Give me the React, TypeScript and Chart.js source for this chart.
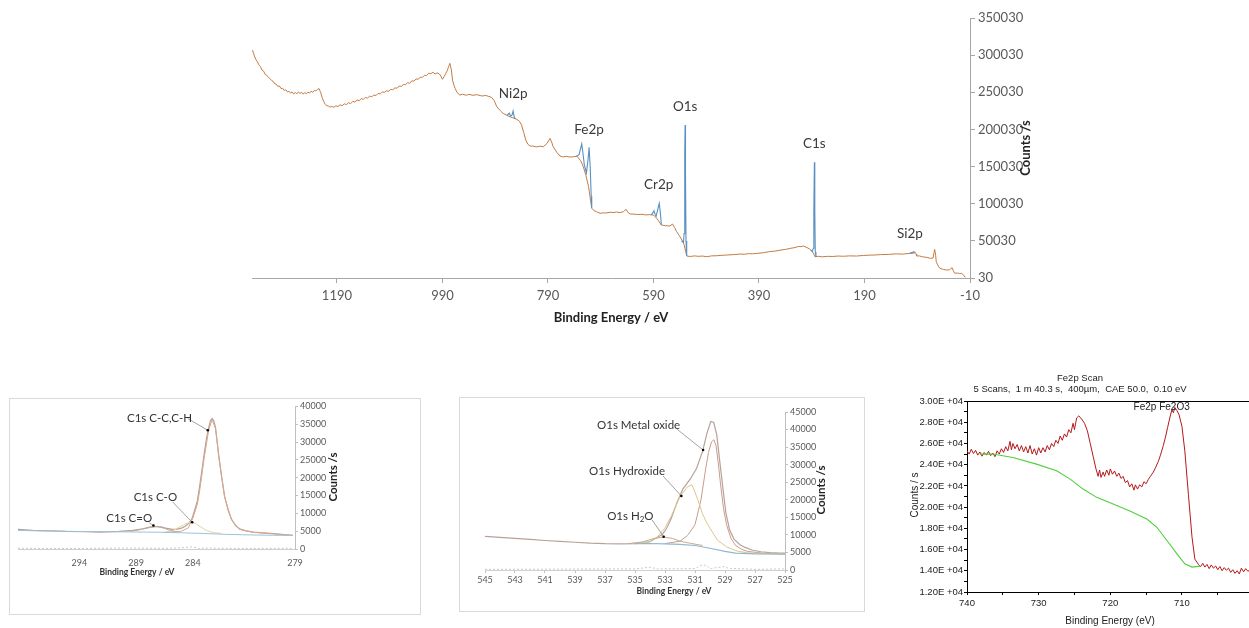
import React, { useEffect, useRef } from "react";
import { Chart, registerables } from "chart.js";

Chart.register(...registerables);

const CAL = "Lato, 'Open Sans', sans-serif";
const ARIAL = "'Liberation Sans', Arial, sans-serif";

// ---------------- Survey spectrum (eV, counts/s) ----------------
const SURVEY_BACKGROUND: [number, number][] = [
  [1350, 306900], [1347, 300000], [1344, 294500], [1341, 291500], [1338, 287000], [1335, 284500],
  [1332, 280000], [1329, 278500], [1326, 274000], [1323, 273000], [1320, 270000], [1317, 268500],
  [1314, 266000], [1311, 264800], [1308, 261500], [1305, 261000], [1302, 258000], [1299, 258500],
  [1296, 255000], [1293, 255500], [1290, 252500], [1287, 253500], [1284, 250500], [1281, 251500],
  [1278, 249000], [1275, 250500], [1272, 247800], [1269, 249800], [1266, 248000], [1263, 250500],
  [1260, 248500], [1257, 250000], [1254, 247500], [1251, 249800], [1248, 248000], [1245, 250200],
  [1242, 249000], [1239, 251500], [1236, 250000], [1233, 252500], [1230, 251800], [1227, 254000],
  [1224, 255000], [1221, 250000], [1218, 243000], [1215, 237500], [1212, 233500], [1209, 232000],
  [1206, 231500], [1203, 230000], [1200, 231200], [1196, 229800], [1192, 231800], [1188, 230800],
  [1184, 233200], [1180, 232000], [1176, 234500], [1172, 233500], [1168, 236000], [1164, 234800],
  [1160, 237800], [1156, 236800], [1152, 239800], [1148, 238500], [1144, 241500], [1140, 240500],
  [1136, 243000], [1132, 242200], [1128, 244800], [1124, 244000], [1120, 246500], [1116, 245500],
  [1112, 248500], [1108, 247800], [1104, 250500], [1100, 250000], [1096, 252000], [1092, 251500],
  [1088, 254000], [1084, 253500], [1080, 256000], [1076, 255500], [1072, 258500], [1068, 258000],
  [1064, 260500], [1060, 260200], [1056, 263000], [1052, 262000], [1048, 265500], [1044, 265000],
  [1040, 268000], [1036, 267500], [1032, 270500], [1028, 270000], [1024, 273000], [1020, 272500],
  [1016, 275800], [1012, 275000], [1008, 277000], [1004, 274500], [1000, 276200], [996, 274800],
  [993, 272000], [990, 267500], [987, 271000], [984, 275000], [981, 279000], [978, 285000],
  [976, 289000], [973, 280000], [971, 266500], [968, 259000], [966, 255300], [962, 249500],
  [957, 246300], [952, 247500], [945, 246000], [940, 247200], [932, 246000], [925, 246800],
  [915, 245000], [908, 245800], [897, 243200], [892, 239000], [887, 230600], [880, 225000],
  [875, 221700], [868, 219000], [862, 217100], [856, 215500], [849, 213600], [844, 211000],
  [840, 205900], [836, 196000], [832, 185700], [828, 180000], [824, 177700], [818, 177500],
  [812, 176500], [805, 177500], [799, 176700], [792, 181000], [786, 188000], [783, 183000],
  [780, 176700], [773, 169000], [767, 164200], [761, 163000], [755, 163800], [748, 162800],
  [742, 163300], [735, 164000], [728, 158000], [723, 149800], [718, 138000], [713, 122900],
  [710, 108000], [707, 93800], [703, 91000], [698, 89200], [691, 87100], [685, 87800],
  [680, 87500], [672, 88500], [665, 88200], [660, 89000], [655, 88000], [647, 89200],
  [642, 92500], [638, 88000], [634, 86100], [627, 86000], [620, 85500], [612, 85800],
  [605, 85000], [597, 85300], [590, 84800], [587, 82500], [584, 80400], [579, 75500],
  [575, 71300], [567, 70500], [559, 70000], [554, 72700], [550, 68000], [546, 62300],
  [541, 57000], [536, 51100], [532, 45000], [529, 36000], [527, 29600], [520, 29000],
  [512, 29800], [505, 29200], [497, 29600], [489, 28700], [480, 29800], [470, 30000],
  [460, 30600], [450, 31000], [438, 31500], [426, 32300], [418, 32000], [410, 32800],
  [402, 32600], [394, 33200], [382, 34000], [370, 35500], [360, 36200], [350, 37500],
  [340, 38500], [330, 40000], [322, 41000], [315, 42500], [310, 42200], [306, 43100],
  [299, 41000], [294, 39000], [290, 36700], [286, 32000], [284, 28700], [277, 29200],
  [270, 28500], [260, 29200], [250, 29000], [240, 29600], [230, 29300], [218, 29800],
  [205, 29600], [192, 30400], [180, 30800], [170, 31000], [160, 31500], [145, 31800],
  [130, 32500], [118, 32200], [104, 33200], [96, 33500], [94, 34600], [92, 32000],
  [91, 29600], [86, 29800], [80, 28500], [72, 27800], [65, 26500], [60, 27000],
  [57, 38600], [55, 30000], [54, 21900], [50, 16000], [47, 13000], [40, 11500],
  [34, 10800], [29, 11000], [24, 13900], [21, 9000], [19, 6300], [14, 6800],
  [10, 6000], [6, 6300], [2, 4000], [-1, 900],
];
const SURVEY_PEAKS: [number, number | null][] = [
  [868, 219000], [865, 220800], [863, 222000], [861, 218000], [858, 219500], [856, 224800], [854, 217000], [852, 214500], [850, null],
  [736, 164000], [731, 166000], [726, 180400], [724, 170000], [721, 152000], [717, 141700], [714, 160000], [712, 175900], [710, 150000], [708, 110000], [707, 93800], [705, null],
  [594, 85000], [591, 88000], [589, 90600], [587, 86000], [585, 83000], [582, 92000], [579, 100500], [577, 88000], [575, 71300], [573, null],
  [537, 50000], [533, 48000], [532, 60000], [530.7, 170000], [530, 205900], [529.3, 140000], [528.3, 50000], [527, 29600], [525, null],
  [292, 37500], [289, 36200], [287, 40000], [286, 90000], [285, 155700], [284.2, 90000], [283.3, 35000], [282, 28700], [280, null],
  [104, 33200], [100, 34500], [97, 35200], [94, 34600],
];
const SURVEY_X_TICKS = [1190, 990, 790, 590, 390, 190, -10];
const SURVEY_Y_TICKS = [30, 50030, 100030, 150030, 200030, 250030, 300030, 350030];
const SURVEY_PEAK_NAMES = ["Ni2p", "Fe2p", "O1s", "Cr2p", "C1s", "Si2p"];
const SURVEY_NAME_EV = [856, 712, 530, 580, 285, 104];
const SURVEY_NAME_COUNTS = [247700, 199200, 230200, 125200, 180400, 59200];

// ---------------- C1s high resolution ----------------
const C1S_ENVELOPE: [number, number][] = [
  [299.4, 5490], [298.1, 5220], [296.5, 5100], [295.2, 4940], [293.5, 4900], [292.2, 4750],
  [290.5, 4950], [289.3, 5220], [288.4, 5680], [287.8, 6150], [287.2, 6310], [286.8, 6200],
  [286.4, 5850], [285.8, 5490], [285.4, 5600], [285.0, 5850], [284.7, 6300], [284.4, 7050],
  [284.1, 8300], [283.9, 10240], [283.6, 13500], [283.4, 17570], [283.2, 22000], [283.0, 26710],
  [282.8, 31000], [282.6, 34040], [282.45, 36000], [282.3, 36590], [282.15, 36000], [282.0, 34040],
  [281.85, 30000], [281.7, 25800], [281.45, 20000], [281.2, 14820], [280.9, 11000], [280.6, 8430],
  [280.25, 6600], [279.9, 5680], [279.3, 5100], [278.7, 4750], [277.8, 4500], [276.9, 4310],
  [276.0, 4050], [275.2, 3840],
];
const C1S_CC: [number, number][] = [
  [286.5, 4650], [285.5, 4800], [285.0, 5000], [284.4, 5900], [284.0, 8600], [283.6, 12600],
  [283.4, 16300], [283.0, 25500], [282.6, 33400], [282.3, 36300], [282.0, 33700], [281.7, 25500],
  [281.2, 14500], [280.6, 8200], [279.9, 5500], [278.7, 4700], [276.9, 4250], [275.2, 3820],
];
const C1S_CO: [number, number][] = [
  [286.5, 4700], [285.8, 5100], [285.2, 6100], [284.6, 7100], [284.2, 7490], [283.8, 7200],
  [283.3, 6200], [282.8, 5200], [282.2, 4600], [281.5, 4400],
];
const C1S_CEO: [number, number][] = [
  [289.5, 4950], [288.5, 5500], [287.7, 6100], [287.2, 6300], [286.6, 5900], [286.0, 5200], [285.3, 4700],
];
const C1S_BG: [number, number][] = [
  [299.4, 5200], [295, 4950], [290, 4800], [287, 4700], [285, 4550], [283, 4350], [281, 4100],
  [279, 3950], [277, 3850], [275.2, 3800],
];
const C1S_RESIDUAL: [number, number][] = [
  [299.4, 200], [295, 150], [290, 250], [286, 200], [285, 350], [284, 600], [283.5, 150],
  [282.5, 300], [282, 200], [279, 150], [275.2, 200],
];
const C1S_X_TICKS = [294, 289, 284, 275];
const C1S_X_TICK_LABELS = ["294", "289", "284", "279"];
const C1S_Y_TICKS = [0, 5000, 10000, 15000, 20000, 25000, 30000, 35000, 40000];

// ---------------- O1s high resolution ----------------
const O1S_ENVELOPE: [number, number][] = [
  [545, 9600], [544, 9300], [543, 9000], [542, 8700], [541, 8400], [540, 8150], [539, 7900],
  [538, 7650], [537, 7500], [536, 7450], [535, 7500], [534.5, 7700], [534, 8100], [533.5, 9300],
  [533.2, 10000], [532.9, 11800], [532.6, 14500], [532.2, 19200], [531.8, 23100], [531.3, 26000],
  [530.9, 28900], [530.5, 33700], [530.2, 39000], [529.95, 42300], [529.75, 42000], [529.55, 38500],
  [529.35, 31000], [529.2, 25500], [528.95, 16500], [528.7, 11500], [528.4, 8800], [528.0, 7200],
  [527.7, 6500], [527.2, 5700], [526.6, 5200], [526, 4950], [525.5, 4850], [525, 4800],
];
const O1S_OXIDE: [number, number][] = [
  [533, 7500], [532, 8200], [531.5, 9800], [531.0, 12900], [530.6, 20000], [530.3, 28500],
  [530.1, 33500], [529.9, 36500], [529.75, 37100], [529.6, 35500], [529.45, 30500], [529.3, 24500],
  [529.1, 17500], [528.9, 12900], [528.6, 9000], [528.3, 7000], [527.9, 5900], [527.5, 5300],
  [526.5, 4800], [525, 4600],
];
const O1S_HYDROXIDE: [number, number][] = [
  [535, 7500], [534, 8000], [533.5, 9500], [533.0, 12000], [532.6, 15200], [532.0, 20900],
  [531.5, 23700], [531.2, 24300], [530.8, 19900], [530.5, 16000], [530.2, 13300], [529.8, 10500],
  [529.5, 8500], [528.9, 6600], [528.2, 5400], [527.5, 4900], [526.5, 4700], [525, 4600],
];
const O1S_WATER: [number, number][] = [
  [535.5, 7500], [534.5, 8000], [533.8, 8900], [533.1, 9400], [532.5, 9000], [532.0, 8200],
  [531.3, 7600], [530.5, 7000],
];
const O1S_BG: [number, number][] = [
  [535, 7500], [534, 7550], [533, 7450], [532, 7300], [531, 7000], [530, 6200], [529, 5300],
  [528.3, 4800], [527, 4600], [525, 4500],
];
const O1S_RESIDUAL: [number, number][] = [
  [545, 200], [540, 250], [535, 300], [534, 800], [533.5, 300], [531, 400], [530.5, 1500],
  [530.2, 1200], [530, 400], [529, 1000], [528.8, 500], [527, 200], [525, 300],
];
const O1S_X_TICKS = [545, 543, 541, 539, 537, 535, 533, 531, 529, 527, 525];
const O1S_Y_TICKS = [0, 5000, 10000, 15000, 20000, 25000, 30000, 35000, 40000, 45000];

// ---------------- Fe2p scan ----------------
const FE2P_SPECTRUM: [number, number][] = [
  [740.0, 25300], [739.7, 25000], [739.4, 25450], [739.1, 25050], [738.8, 25350], [738.5, 24900],
  [738.2, 25200], [737.9, 24800], [737.6, 25150], [737.3, 24900], [737.0, 25250], [736.7, 24850],
  [736.4, 25100], [736.1, 24750], [735.8, 25300], [735.5, 25000], [735.2, 25500], [734.9, 25150],
  [734.6, 25700], [734.3, 25300], [734.0, 26200], [733.8, 25400], [733.6, 26000], [733.3, 25500],
  [733.0, 25900], [732.7, 25300], [732.4, 25800], [732.1, 25200], [731.8, 25700], [731.5, 25100],
  [731.2, 25800], [730.9, 25000], [730.6, 25500], [730.3, 24900], [730.0, 25600], [729.7, 25100],
  [729.4, 25600], [729.1, 25200], [728.8, 25800], [728.5, 25400], [728.2, 26000], [727.9, 25700],
  [727.6, 26300], [727.3, 26000], [727.0, 26700], [726.7, 26300], [726.4, 26900], [726.1, 26600],
  [725.8, 27300], [725.5, 27000], [725.2, 27900], [725.0, 27300], [724.7, 28400], [724.4, 28600],
  [724.0, 28300], [723.6, 27900], [723.2, 27200], [722.8, 26000], [722.4, 24800], [722.0, 23600],
  [721.7, 22900], [721.5, 23500], [721.3, 22800], [721.0, 23300], [720.8, 22900], [720.5, 23500],
  [720.2, 23000], [720.0, 23600], [719.7, 23100], [719.4, 23400], [719.1, 22900], [718.8, 23200],
  [718.5, 22700], [718.2, 22900], [717.9, 22300], [717.6, 22500], [717.3, 21900], [717.0, 22200],
  [716.7, 21600], [716.5, 22100], [716.2, 21700], [715.9, 22100], [715.6, 21900], [715.3, 22400],
  [715.0, 22200], [714.7, 22600], [714.4, 22900], [714.0, 23300], [713.7, 23700], [713.3, 24300],
  [713.0, 24900], [712.6, 25800], [712.3, 26600], [712.0, 27500], [711.7, 28400], [711.4, 29200],
  [711.2, 28900], [711.0, 29400], [710.7, 29100], [710.4, 28700], [710.0, 27600], [709.6, 25300],
  [709.1, 21200], [708.6, 17200], [708.2, 15100], [707.7, 14600], [707.4, 14400], [707.1, 14700],
  [706.8, 14350], [706.5, 14600], [706.2, 14200], [705.9, 14550], [705.6, 14250], [705.3, 14450],
  [705.0, 14100], [704.7, 14400], [704.4, 14000], [704.1, 14300], [703.8, 14050], [703.5, 14250],
  [703.2, 13850], [702.9, 14100], [702.6, 13750], [702.3, 14000], [702.0, 13700], [701.7, 14250],
  [701.4, 13900], [701.1, 14200], [700.8, 13950], [700.5, 14100], [700.2, 13900],
];
const FE2P_BACKGROUND: [number, number][] = [
  [738.2, 24990], [736.4, 25000], [733.6, 24680], [730.3, 24050], [727.5, 23420], [725.6, 22640],
  [723.8, 21700], [721.9, 20920], [719.6, 20290], [717.2, 19610], [714.9, 18880], [713.5, 18100],
  [712.1, 16850], [710.7, 15600], [709.6, 14660], [708.6, 14350], [707.5, 14440],
];
const FE2P_X_TICKS = [740, 735, 730, 725, 720, 715, 710, 705, 700];
const FE2P_X_TICK_LABELS = ["740", "", "730", "", "720", "", "710", "", ""];
const FE2P_Y_TICKS = [12000, 13000, 14000, 15000, 16000, 17000, 18000, 19000, 20000, 21000,
  22000, 23000, 24000, 25000, 26000, 27000, 28000, 29000, 30000];

// ---------------- helpers ----------------
type Part = { t: string; sub?: boolean };
type Txt = {
  text?: string; parts?: Part[]; x: number; y: number; data?: boolean;
  font: string; subFont?: string; color?: string; align?: CanvasTextAlign; rot?: number;
};
type Lead = { x1: number; y1: number; x2: number; y2: number };

function overlay(id: string, texts: Txt[], leads: Lead[] = [], frame = false) {
  return {
    id,
    afterDraw(chart: any) {
      const { ctx, scales, chartArea } = chart;
      const sx = scales.x;
      const sy = scales.y;
      ctx.save();
      if (frame) {
        ctx.strokeStyle = "#000";
        ctx.lineWidth = 1;
        ctx.beginPath();
        ctx.moveTo(Math.round(chartArea.left) + 0.5, Math.round(chartArea.top) + 0.5);
        ctx.lineTo(Math.round(chartArea.right) + 0.5, Math.round(chartArea.top) + 0.5);
        ctx.lineTo(Math.round(chartArea.right) + 0.5, Math.round(chartArea.bottom) + 0.5);
        ctx.stroke();
      }
      for (const l of leads) {
        const x1 = sx.getPixelForValue(l.x1), y1 = sy.getPixelForValue(l.y1);
        const x2 = sx.getPixelForValue(l.x2), y2 = sy.getPixelForValue(l.y2);
        ctx.strokeStyle = "#8c8c8c";
        ctx.lineWidth = 0.8;
        ctx.beginPath();
        ctx.moveTo(x1, y1);
        ctx.lineTo(x2, y2);
        ctx.stroke();
        ctx.fillStyle = "#000";
        ctx.beginPath();
        ctx.arc(x2, y2, 1.3, 0, Math.PI * 2);
        ctx.fill();
      }
      for (const t of texts) {
        const px = t.data ? sx.getPixelForValue(t.x) : t.x;
        const py = t.data ? sy.getPixelForValue(t.y) : t.y;
        ctx.save();
        ctx.translate(px, py);
        if (t.rot) ctx.rotate(t.rot);
        ctx.fillStyle = t.color || "#333";
        ctx.textBaseline = "middle";
        if (t.parts) {
          let w = 0;
          for (const p of t.parts) {
            ctx.font = p.sub ? t.subFont || t.font : t.font;
            w += ctx.measureText(p.t).width;
          }
          let cx = -w / 2;
          ctx.textAlign = "left";
          for (const p of t.parts) {
            ctx.font = p.sub ? t.subFont || t.font : t.font;
            ctx.fillText(p.t, cx, p.sub ? 3 : 0);
            cx += ctx.measureText(p.t).width;
          }
        } else {
          ctx.font = t.font;
          ctx.textAlign = t.align || "center";
          ctx.fillText(t.text || "", 0, 0);
        }
        ctx.restore();
      }
      ctx.restore();
    },
  };
}

const pts = (arr: [number, number | null][]) => arr.map(([x, y]) => ({ x, y }));
const line = (arr: [number, number | null][], color: string, width = 1, dash: number[] = []) => ({
  data: pts(arr), borderColor: color, borderWidth: width, pointRadius: 0, borderDash: dash,
  spanGaps: false, tension: 0, fill: false,
});

function fmtE(v: number) {
  const e = Math.floor(Math.log10(v));
  const m = v / Math.pow(10, e);
  return m.toFixed(2) + "E +" + String(e).padStart(2, "0");
}

function surveyConfig(): any {
  const font = { family: CAL, size: 13 };
  const texts: Txt[] = SURVEY_PEAK_NAMES.map((n, i) => ({
    text: n, x: SURVEY_NAME_EV[i], y: SURVEY_NAME_COUNTS[i], data: true,
    font: `13.5px ${CAL}`, color: "#3a3a3a",
  }));
  texts.push({ text: "Binding Energy / eV", x: 611, y: 318, font: `bold 13px ${CAL}`, color: "#222" });
  texts.push({ text: "Counts /s", x: 1026, y: 148, rot: -Math.PI / 2, font: `bold 13px ${CAL}`, color: "#222" });
  return {
    type: "line",
    data: {
      datasets: [
        line(SURVEY_PEAKS, "#5b8fc2", 1.1),
        line(SURVEY_BACKGROUND, "#c27b45", 1),
      ],
    },
    options: {
      animation: false, responsive: false, events: [],
      layout: { padding: { left: 252, top: 18, right: 199, bottom: 0 } },
      plugins: { legend: { display: false }, tooltip: { enabled: false } },
      scales: {
        x: {
          type: "linear", reverse: true, min: -10, max: 1351,
          afterBuildTicks: (s: any) => { s.ticks = SURVEY_X_TICKS.map((v) => ({ value: v })); },
          afterFit: (s: any) => { s.height = 62; },
          ticks: { callback: (v: any) => String(v), font, color: "#595959", padding: 5, maxRotation: 0, autoSkip: false },
          grid: { drawOnChartArea: false, tickLength: 5, color: "#a6a6a6" },
          border: { color: "#a6a6a6" },
        },
        y: {
          type: "linear", position: "right", min: 30, max: 350030,
          afterBuildTicks: (s: any) => { s.ticks = SURVEY_Y_TICKS.map((v) => ({ value: v })); },
          afterFit: (s: any) => { s.width = 80; },
          ticks: { callback: (v: any) => String(v), font, color: "#595959", padding: 3, autoSkip: false },
          grid: { drawOnChartArea: false, tickLength: 5, color: "#a6a6a6" },
          border: { color: "#a6a6a6" },
        },
      },
    },
    plugins: [overlay("surveyText", texts)],
  };
}

function c1sConfig(): any {
  const font = { family: CAL, size: 9 };
  const lf = `11.5px ${CAL}`;
  const texts: Txt[] = [
    { text: "C1s C-C,C-H", x: 286.94, y: 36780, data: true, font: lf },
    { text: "C1s C-O", x: 287.3, y: 14630, data: true, font: lf },
    { text: "C1s C=O", x: 289.6, y: 8700, data: true, font: lf },
    { text: "Binding Energy / eV", x: 127, y: 173, font: `bold 8.5px ${CAL}`, color: "#333" },
    { text: "Counts /s", x: 323, y: 78, rot: -Math.PI / 2, font: `bold 11.5px ${CAL}`, color: "#222" },
  ];
  const leads: Lead[] = [
    { x1: 284.45, y1: 36600, x2: 282.68, y2: 33300 },
    { x1: 285.77, y1: 13180, x2: 284.06, y2: 7490 },
    { x1: 287.83, y1: 7330, x2: 287.47, y2: 6590 },
  ];
  return {
    type: "line",
    data: {
      datasets: [
        line(C1S_RESIDUAL, "#c8c8c8", 1, [2, 2]),
        line(C1S_BG, "#9cc3d9", 1),
        line(C1S_CEO, "#b9aca6", 1),
        line(C1S_CO, "#e2d4a2", 1),
        line(C1S_CC, "#d6a891", 1),
        line(C1S_ENVELOPE, "#b99f93", 1.2),
      ],
    },
    options: {
      animation: false, responsive: false, events: [],
      layout: { padding: { left: 8, top: 4, right: 85, bottom: 0 } },
      plugins: { legend: { display: false }, tooltip: { enabled: false } },
      scales: {
        x: {
          type: "linear", reverse: true, min: 275.0, max: 299.4,
          afterBuildTicks: (s: any) => { s.ticks = C1S_X_TICKS.map((v) => ({ value: v })); },
          afterFit: (s: any) => { s.height = 65; },
          ticks: { callback: (_v: any, i: number) => C1S_X_TICK_LABELS[i], font, color: "#595959", padding: 1, maxRotation: 0, autoSkip: false },
          grid: { display: false },
          border: { color: "#d0d0d0" },
        },
        y: {
          type: "linear", position: "right", min: 0, max: 40000,
          afterBuildTicks: (s: any) => { s.ticks = C1S_Y_TICKS.map((v) => ({ value: v })); },
          afterFit: (s: any) => { s.width = 40; },
          ticks: { callback: (v: any) => String(v), font, color: "#595959", padding: 2, autoSkip: false },
          grid: { drawOnChartArea: false, tickLength: 3, color: "#bfbfbf" },
          border: { color: "#bfbfbf" },
        },
      },
    },
    plugins: [overlay("c1sText", texts, leads)],
  };
}

function o1sConfig(): any {
  const font = { family: CAL, size: 9 };
  const lf = `11.5px ${CAL}`;
  const texts: Txt[] = [
    { text: "O1s Metal oxide", x: 534.76, y: 41300, data: true, font: lf },
    { text: "O1s Hydroxide", x: 535.53, y: 28000, data: true, font: lf },
    { parts: [{ t: "O1s H" }, { t: "2", sub: true }, { t: "O" }], x: 535.31, y: 15380, data: true, font: lf, subFont: `8px ${CAL}` },
    { text: "Binding Energy / eV", x: 214, y: 193, font: `bold 8.5px ${CAL}`, color: "#333" },
    { text: "Counts /s", x: 361, y: 92, rot: -Math.PI / 2, font: `bold 11.5px ${CAL}`, color: "#222" },
  ];
  const leads: Lead[] = [
    { x1: 532.19, y1: 40070, x2: 530.46, y2: 34180 },
    { x1: 533.13, y1: 26770, x2: 531.91, y2: 21080 },
    { x1: 533.86, y1: 14240, x2: 533.09, y2: 9480 },
  ];
  return {
    type: "line",
    data: {
      datasets: [
        line(O1S_RESIDUAL, "#c8c8c8", 1, [2, 2]),
        line(O1S_BG, "#8fb8d2", 1.1),
        line(O1S_WATER, "#c9a98f", 1),
        line(O1S_HYDROXIDE, "#dcc78f", 1),
        line(O1S_OXIDE, "#c99c88", 1),
        line(O1S_ENVELOPE, "#b7a29a", 1.2),
      ],
    },
    options: {
      animation: false, responsive: false, events: [],
      layout: { padding: { left: 25, top: 14, right: 34, bottom: 0 } },
      plugins: { legend: { display: false }, tooltip: { enabled: false } },
      scales: {
        x: {
          type: "linear", reverse: true, min: 525, max: 545,
          afterBuildTicks: (s: any) => { s.ticks = O1S_X_TICKS.map((v) => ({ value: v })); },
          afterFit: (s: any) => { s.height = 41; },
          ticks: { callback: (v: any) => String(v), font, color: "#595959", padding: 2, maxRotation: 0, autoSkip: false },
          grid: { drawOnChartArea: false, tickLength: 3, color: "#bfbfbf" },
          border: { color: "#d0d0d0" },
        },
        y: {
          type: "linear", position: "right", min: 0, max: 45000,
          afterBuildTicks: (s: any) => { s.ticks = O1S_Y_TICKS.map((v) => ({ value: v })); },
          afterFit: (s: any) => { s.width = 45; },
          ticks: { callback: (v: any) => String(v), font, color: "#595959", padding: 2, autoSkip: false },
          grid: { drawOnChartArea: false, tickLength: 3, color: "#bfbfbf" },
          border: { color: "#bfbfbf" },
        },
      },
    },
    plugins: [overlay("o1sText", texts, leads)],
  };
}

function fe2pConfig(): any {
  const font = { family: ARIAL, size: 9.5 };
  const texts: Txt[] = [
    { text: "Fe2p Scan", x: 200, y: 13, font: `9.5px ${ARIAL}`, color: "#222" },
    { text: "5 Scans,  1 m 40.3 s,  400µm,  CAE 50.0,  0.10 eV", x: 200, y: 24, font: `9.5px ${ARIAL}`, color: "#222" },
    { text: "Counts / s", x: 35, y: 130, rot: -Math.PI / 2, font: `10px ${ARIAL}`, color: "#222" },
    { text: "Binding Energy (eV)", x: 230, y: 256, font: `10px ${ARIAL}`, color: "#222" },
    { text: "Fe2p Fe2O3", x: 712.83, y: 29430, data: true, font: `10px ${ARIAL}`, color: "#222" },
  ];
  return {
    type: "line",
    data: {
      datasets: [
        line(FE2P_BACKGROUND, "#4fcf3c", 1.1),
        line(FE2P_SPECTRUM, "#b3191c", 1),
      ],
    },
    options: {
      animation: false, responsive: false, events: [],
      layout: { padding: { left: 37, top: 36, right: 46.4, bottom: 0 } },
      plugins: { legend: { display: false }, tooltip: { enabled: false } },
      scales: {
        x: {
          type: "linear", reverse: true, min: 700, max: 740,
          afterBuildTicks: (s: any) => { s.ticks = FE2P_X_TICKS.map((v) => ({ value: v })); },
          afterFit: (s: any) => { s.height = 36; },
          ticks: { callback: (_v: any, i: number) => FE2P_X_TICK_LABELS[i], font, color: "#222", padding: 3, maxRotation: 0, autoSkip: false },
          grid: { drawOnChartArea: false, tickLength: 3, color: "#000" },
          border: { color: "#000" },
        },
        y: {
          type: "linear", position: "left", min: 12000, max: 30000,
          afterBuildTicks: (s: any) => { s.ticks = FE2P_Y_TICKS.map((v) => ({ value: v })); },
          afterFit: (s: any) => { s.width = 50; },
          ticks: { callback: (v: any) => (v % 2000 === 0 ? fmtE(v) : ""), font, color: "#222", padding: 1, autoSkip: false },
          grid: { drawOnChartArea: false, tickLength: 3, color: "#000" },
          border: { color: "#000" },
        },
      },
    },
    plugins: [overlay("fe2pText", texts, [], true)],
  };
}

export default function App() {
  const r1 = useRef<HTMLCanvasElement>(null);
  const r2 = useRef<HTMLCanvasElement>(null);
  const r3 = useRef<HTMLCanvasElement>(null);
  const r4 = useRef<HTMLCanvasElement>(null);

  useEffect(() => {
    const charts = [
      new Chart(r1.current!, surveyConfig()),
      new Chart(r2.current!, c1sConfig()),
      new Chart(r3.current!, o1sConfig()),
      new Chart(r4.current!, fe2pConfig()),
    ];
    return () => charts.forEach((c) => c.destroy());
  }, []);

  return (
    <div style={{ position: "absolute", left: 0, top: 0, width: 1249, height: 628, overflow: "hidden", background: "#fff" }}>
      <canvas ref={r1} width={1249} height={340} style={{ position: "absolute", left: 0, top: 0 }} />
      <div style={{ position: "absolute", left: 9, top: 398, width: 410, height: 215, border: "1px solid #d9d9d9" }}>
        <canvas ref={r2} width={410} height={215} style={{ display: "block" }} />
      </div>
      <div style={{ position: "absolute", left: 459, top: 397, width: 404, height: 213, border: "1px solid #d9d9d9" }}>
        <canvas ref={r3} width={404} height={213} style={{ display: "block" }} />
      </div>
      <canvas ref={r4} width={420} height={263} style={{ position: "absolute", left: 880, top: 365 }} />
    </div>
  );
}
